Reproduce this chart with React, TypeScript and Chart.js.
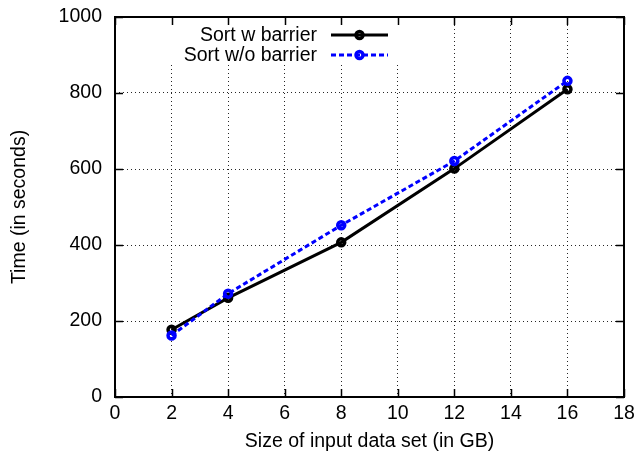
import React, { useEffect, useRef } from 'react';
import { Chart, registerables } from 'chart.js';

Chart.register(...registerables);

const sizes = [2, 4, 8, 12, 16];
const withBarrier = [177, 261, 407, 601, 810];
const withoutBarrier = [162, 272, 452, 621, 832];
const seriesNames = ['Sort w barrier', 'Sort w/o barrier'];
const xTitle = 'Size of input data set (in GB)';
const yTitle = 'Time (in seconds)';
const xRange = [0, 18, 2];
const yRange = [0, 1000, 200];

const FONT = '"Liberation Sans", Arial, Helvetica, sans-serif';
const FS = 19.5;
const BLUE = 'rgb(0,0,255)';

const frameTicks = {
  id: 'frameTicks',
  beforeDatasetsDraw(chart: any) {
    const { ctx, chartArea: a, scales } = chart;
    const xs = scales.x, ys = scales.y;
    ctx.save();
    // key area blanks the grid behind it
    ctx.fillStyle = '#fff';
    ctx.fillRect(160, a.top, 245, 64 - a.top);
    ctx.strokeStyle = '#000';
    ctx.lineWidth = 1.5;
    ctx.beginPath();
    for (let v = xRange[0]; v <= xRange[1]; v += xRange[2]) {
      const p = Math.round(xs.getPixelForValue(v)) + 0.5;
      ctx.moveTo(p, a.bottom); ctx.lineTo(p, a.bottom - 8);
      ctx.moveTo(p, a.top); ctx.lineTo(p, a.top + 8);
    }
    for (let v = yRange[0]; v <= yRange[1]; v += yRange[2]) {
      const p = Math.round(ys.getPixelForValue(v)) + 0.5;
      ctx.moveTo(a.left, p); ctx.lineTo(a.left + 8, p);
      ctx.moveTo(a.right, p); ctx.lineTo(a.right - 8, p);
    }
    ctx.stroke();
    ctx.lineWidth = 2;
    ctx.strokeRect(a.left, a.top, a.right - a.left, a.bottom - a.top);
    ctx.restore();
  },
};

const keyPlugin = {
  id: 'keyPlugin',
  afterDatasetsDraw(chart: any) {
    const { ctx } = chart;
    const rows = [
      { name: seriesNames[0], color: '#000', dash: [] as number[], y: 35 },
      { name: seriesNames[1], color: BLUE, dash: [5, 3], y: 55 },
    ];
    ctx.save();
    for (const r of rows) {
      ctx.font = `${FS}px ${FONT}`;
      ctx.fillStyle = '#000';
      ctx.textAlign = 'right';
      ctx.textBaseline = 'middle';
      ctx.fillText(r.name, 317, r.y + 1);
      ctx.strokeStyle = r.color;
      ctx.lineWidth = 3;
      ctx.setLineDash(r.dash);
      ctx.beginPath();
      ctx.moveTo(331, r.y);
      ctx.lineTo(388, r.y);
      ctx.stroke();
      ctx.setLineDash([]);
      ctx.lineWidth = 3.5;
      ctx.beginPath();
      ctx.arc(359.5, r.y, 3.5, 0, Math.PI * 2);
      ctx.stroke();
    }
    ctx.restore();
  },
};

export default function App() {
  const ref = useRef<HTMLCanvasElement>(null);
  useEffect(() => {
    document.body.style.margin = '0';
    const canvas = ref.current!;
    const chart = new Chart(canvas, {
      type: 'line',
      data: {
        datasets: [
          {
            label: seriesNames[1],
            data: sizes.map((x, i) => ({ x, y: withoutBarrier[i] })),
            borderColor: BLUE,
            borderWidth: 3,
            borderDash: [5, 3],
            pointRadius: 3.5,
            pointBorderWidth: 3.5,
            pointBorderColor: BLUE,
            pointBackgroundColor: 'rgba(255,255,255,0)',
            order: 0,
          },
          {
            label: seriesNames[0],
            data: sizes.map((x, i) => ({ x, y: withBarrier[i] })),
            borderColor: '#000',
            borderWidth: 3,
            pointRadius: 3.5,
            pointBorderWidth: 3.5,
            pointBorderColor: '#000',
            pointBackgroundColor: 'rgba(255,255,255,0)',
            order: 1,
          },
        ],
      },
      options: {
        responsive: false,
        animation: false,
        layout: { padding: { left: 0, right: 15, top: 17, bottom: 0 } },
        plugins: { legend: { display: false }, tooltip: { enabled: false } },
        scales: {
          x: {
            type: 'linear',
            min: xRange[0],
            max: xRange[1],
            ticks: { stepSize: xRange[2], padding: 5, color: '#000', font: { family: FONT, size: FS }, callback: (v: any) => String(v) },
            grid: { color: 'rgba(0,0,0,0.85)', lineWidth: 1, drawTicks: false },
            border: { display: false, dash: [1, 3] },
            title: { display: true, text: xTitle, color: '#000', font: { family: FONT, size: FS }, padding: { top: 0, bottom: 4 } },
            afterFit(s: any) { s.height = 60; s.paddingLeft = 0; s.paddingRight = 0; },
          },
          y: {
            min: yRange[0],
            max: yRange[1],
            ticks: { stepSize: yRange[2], padding: 13, color: '#000', font: { family: FONT, size: FS }, callback: (v: any) => String(v) },
            grid: { color: 'rgba(0,0,0,0.85)', lineWidth: 1, drawTicks: false },
            border: { display: false, dash: [1, 3] },
            title: { display: true, text: yTitle, color: '#000', font: { family: FONT, size: FS }, padding: { top: 8, bottom: 0 } },
            afterFit(s: any) { s.width = 115; s.paddingTop = 0; s.paddingBottom = 0; },
          },
        },
      } as any,
      plugins: [frameTicks, keyPlugin],
    });
    return () => chart.destroy();
  }, []);
  return (
    <div style={{ width: 639, height: 457, background: '#fff' }}>
      <canvas ref={ref} width={639} height={457} style={{ display: 'block' }} />
    </div>
  );
}
